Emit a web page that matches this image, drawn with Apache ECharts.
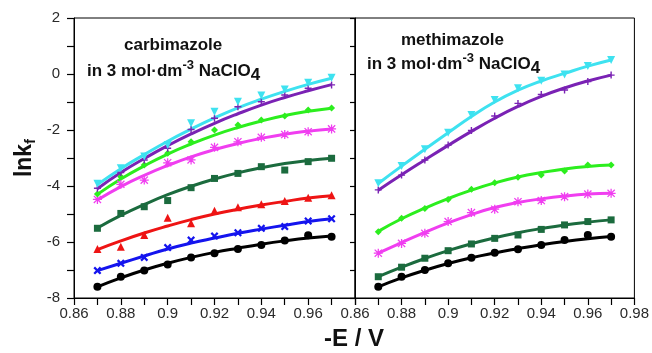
<!DOCTYPE html>
<html>
<head>
<meta charset="utf-8">
<script src="https://cdn.jsdelivr.net/npm/echarts@6/dist/echarts.min.js"></script>
<style>
  html, body { margin: 0; padding: 0; background: #fff; }
  #chart { width: 652px; height: 353px; }
</style>
</head>
<body>
<div id="chart"></div>
<script>
// Potentials (-E / V) at which ln kf was evaluated
const potentials = [0.87, 0.88, 0.89, 0.90, 0.91, 0.92, 0.93, 0.94, 0.95, 0.96, 0.97];

// Axis tick settings
const xTickMin = 0.86, xTickMax = 0.98;
const yTickMin = -8, yTickMax = 2;

// Carbimazole: measured points and fitted curves
const carbCyanPts    = [-3.92, -3.37, -2.95, -2.54, -1.76, -1.35, -0.99, -0.77, -0.55, -0.31, -0.13];
const carbCyanFit    = [-3.95, -3.38, -2.88, -2.40, -1.97, -1.57, -1.21, -0.90, -0.62, -0.37, -0.15];
const carbPurplePts  = [-4.08, -3.52, -3.07, -2.65, -1.98, -1.58, -1.17, -0.99, -0.75, -0.51, -0.39];
const carbPurpleFit  = [-4.10, -3.52, -3.02, -2.56, -2.14, -1.76, -1.42, -1.11, -0.84, -0.60, -0.38];
const carbGreenPts   = [-4.29, -3.67, -3.25, -2.83, -2.42, -2.00, -1.82, -1.64, -1.50, -1.29, -1.21];
const carbGreenFit   = [-4.30, -3.75, -3.28, -2.86, -2.50, -2.18, -1.91, -1.68, -1.48, -1.33, -1.22];
const carbMagentaPts = [-4.48, -3.94, -3.79, -3.17, -3.07, -2.62, -2.42, -2.26, -2.16, -2.06, -1.96];
const carbMagentaFit = [-4.50, -4.02, -3.62, -3.27, -2.96, -2.70, -2.48, -2.30, -2.15, -2.04, -1.96];
const carbDkGreenPts = [-5.51, -4.98, -4.74, -4.52, -4.06, -3.73, -3.55, -3.31, -3.43, -3.13, -3.01];
const carbDkGreenFit = [-5.50, -5.05, -4.66, -4.31, -4.01, -3.75, -3.53, -3.35, -3.20, -3.09, -3.01];
const carbRedPts     = [-6.25, -6.17, -5.75, -5.13, -5.33, -4.88, -4.76, -4.65, -4.54, -4.42, -4.33];
const carbRedFit     = [-6.27, -5.96, -5.68, -5.43, -5.20, -5.00, -4.83, -4.68, -4.55, -4.43, -4.35];
const carbBluePts    = [-7.02, -6.76, -6.55, -6.20, -5.93, -5.79, -5.67, -5.51, -5.45, -5.25, -5.17];
const carbBlueFit    = [-7.02, -6.76, -6.50, -6.25, -6.04, -5.86, -5.69, -5.54, -5.40, -5.27, -5.17];
const carbBlackPts   = [-7.60, -7.24, -7.02, -6.80, -6.55, -6.40, -6.25, -6.11, -5.95, -5.76, -5.81];
const carbBlackFit   = [-7.60, -7.28, -7.00, -6.76, -6.55, -6.37, -6.22, -6.08, -5.96, -5.86, -5.79];

// Methimazole: measured points and fitted curves
const methCyanPts    = [-3.90, -3.29, -2.69, -2.10, -1.46, -0.93, -0.51, -0.24, -0.02, 0.29, 0.50];
const methCyanFit    = [-3.91, -3.29, -2.69, -2.10, -1.52, -1.00, -0.58, -0.25, 0.02, 0.28, 0.50];
const methPurplePts  = [-4.14, -3.61, -3.07, -2.54, -2.02, -1.50, -1.05, -0.73, -0.57, -0.27, -0.04];
const methPurpleFit  = [-4.15, -3.60, -3.07, -2.55, -2.05, -1.58, -1.16, -0.80, -0.50, -0.25, -0.04];
const methGreenPts   = [-5.63, -5.15, -4.80, -4.48, -4.12, -3.88, -3.69, -3.61, -3.46, -3.25, -3.25];
const methGreenFit   = [-5.62, -5.17, -4.79, -4.45, -4.15, -3.89, -3.68, -3.52, -3.39, -3.30, -3.25];
const methMagentaPts = [-6.40, -6.05, -5.69, -5.27, -4.95, -4.83, -4.56, -4.52, -4.38, -4.29, -4.26];
const methMagentaFit = [-6.40, -6.02, -5.66, -5.32, -5.02, -4.77, -4.59, -4.46, -4.36, -4.29, -4.26];
const methDkGreenPts = [-7.24, -6.90, -6.58, -6.31, -6.07, -5.87, -5.75, -5.55, -5.39, -5.27, -5.21];
const methDkGreenFit = [-7.24, -6.90, -6.59, -6.31, -6.06, -5.85, -5.67, -5.52, -5.39, -5.29, -5.21];
const methBlackPts   = [-7.60, -7.24, -7.00, -6.76, -6.56, -6.38, -6.26, -6.11, -5.93, -5.75, -5.81];
const methBlackFit   = [-7.60, -7.28, -7.01, -6.77, -6.56, -6.39, -6.24, -6.10, -5.98, -5.88, -5.80];

const COLORS = {
  cyan: '#3ee2f0', purple: '#7a22b4', green: '#2cee1e', magenta: '#f03ef0',
  dkgreen: '#1b6b3e', red: '#ee1414', blue: '#1414ee', black: '#000000'
};

const SYMBOLS = {
  cross: 'path://M2,0 L5,3 L8,0 L10,2 L7,5 L10,8 L8,10 L5,7 L2,10 L0,8 L3,5 L0,2 Z',
  plus: 'path://M4,0 H6 V4 H10 V6 H6 V10 H4 V6 H0 V4 H4 Z',
  star: 'path://M4.3,0 H5.7 V4.3 H10 V5.7 H5.7 V10 H4.3 V5.7 H0 V4.3 H4.3 Z M1.5,0.5 L5,4 L8.5,0.5 L9.5,1.5 L6,5 L9.5,8.5 L8.5,9.5 L5,6 L1.5,9.5 L0.5,8.5 L4,5 L0.5,1.5 Z'
};

const series = [];
function addSet(panel, color, symbol, size, pts, fit, rotate) {
  series.push({
    type: 'line', xAxisIndex: panel, yAxisIndex: panel,
    data: potentials.map((x, i) => [x, fit[i]]),
    smooth: true, showSymbol: false, silent: true,
    lineStyle: { color: color, width: 3 }, z: 2
  });
  series.push({
    type: 'scatter', xAxisIndex: panel, yAxisIndex: panel,
    data: potentials.map((x, i) => [x, pts[i]]),
    symbol: symbol, symbolSize: size, symbolRotate: rotate || 0,
    itemStyle: { color: color, opacity: 1 }, z: 3
  });
}

addSet(0, COLORS.black,   'circle',    8, carbBlackPts,   carbBlackFit);
addSet(0, COLORS.blue,    SYMBOLS.cross, 8, carbBluePts,  carbBlueFit);
addSet(0, COLORS.red,     'triangle',  8, carbRedPts,     carbRedFit);
addSet(0, COLORS.dkgreen, 'rect',      7, carbDkGreenPts, carbDkGreenFit);
addSet(0, COLORS.magenta, SYMBOLS.star, 9, carbMagentaPts, carbMagentaFit);
addSet(0, COLORS.green,   'diamond',   7, carbGreenPts,   carbGreenFit);
addSet(0, COLORS.purple,  SYMBOLS.plus, 7, carbPurplePts, carbPurpleFit);
addSet(0, COLORS.cyan,    'triangle',  8, carbCyanPts,    carbCyanFit, 180);

addSet(1, COLORS.black,   'circle',    8, methBlackPts,   methBlackFit);
addSet(1, COLORS.dkgreen, 'rect',      7, methDkGreenPts, methDkGreenFit);
addSet(1, COLORS.magenta, SYMBOLS.star, 9, methMagentaPts, methMagentaFit);
addSet(1, COLORS.green,   'diamond',   7, methGreenPts,   methGreenFit);
addSet(1, COLORS.purple,  SYMBOLS.plus, 7, methPurplePts, methPurpleFit);
addSet(1, COLORS.cyan,    'triangle',  8, methCyanPts,    methCyanFit, 180);

const FONT = 'Liberation Sans, Arial, sans-serif';
const labelStyle = { color: '#2a2a2a', fontSize: 15, fontFamily: FONT };

function xAxisFor(panel) {
  return {
    type: 'value', gridIndex: panel, min: xTickMin, max: xTickMax, interval: 0.01,
    axisLine: { show: true, onZero: false, lineStyle: { color: '#000', width: 1 } },
    axisTick: { show: true, inside: false, length: 7, lineStyle: { color: '#000', width: 1.2 } },
    splitLine: { show: false },
    axisLabel: Object.assign({}, labelStyle, {
      margin: 8,
      showMinLabel: true, showMaxLabel: true,
      formatter: function (v) {
        const k = Math.round(v * 100);
        if (k % 2 !== 0) return '';
        if (panel === 0 && k === 98) return '';
        return String(+(k / 100).toFixed(2));
      }
    })
  };
}

function yAxisFor(panel) {
  const ax = {
    type: 'value', gridIndex: panel, min: yTickMin, max: yTickMax, interval: 1,
    axisLine: { show: true, onZero: false, lineStyle: { color: '#000', width: 1 } },
    axisTick: { show: true, inside: false, length: panel === 0 ? 7 : 5, lineStyle: { color: '#000', width: 1.2 } },
    splitLine: { show: false },
    axisLabel: Object.assign({}, labelStyle, {
      show: panel === 0, margin: 14,
      formatter: function (v) {
        const k = Math.round(v);
        return (k % 2 === 0) ? String(k) : '';
      }
    })
  };
  if (panel === 0) {
    ax.name = '{m|lnk}{s|f}';
    ax.nameLocation = 'middle';
    ax.nameRotate = 90;
    ax.nameGap = 36;
    ax.nameTextStyle = {
      rich: {
        m: { fontSize: 23, fontWeight: 'bold', fontFamily: FONT, color: '#111' },
        s: { fontSize: 15, fontWeight: 'bold', fontFamily: FONT, color: '#111', padding: [12, 0, 0, 0] }
      }
    };
  }
  return ax;
}

const textRich = {
  m: { fontSize: 17, fontWeight: 'bold', fontFamily: FONT, color: '#111' },
  sup: { fontSize: 13, fontWeight: 'bold', fontFamily: FONT, color: '#111', padding: [0, 0, 12, 0] },
  sub: { fontSize: 17, fontWeight: 'bold', fontFamily: FONT, color: '#111', padding: [7, 0, 0, 0] }
};

const option = {
  backgroundColor: '#ffffff',
  animation: false,
  grid: [
    { left: 74, top: 18, width: 281, height: 280, show: true, borderColor: '#000', borderWidth: 1, backgroundColor: 'transparent' },
    { left: 355, top: 18, width: 281, height: 280, show: true, borderColor: '#000', borderWidth: 1, backgroundColor: 'transparent' }
  ],
  xAxis: [xAxisFor(0), xAxisFor(1)],
  yAxis: [yAxisFor(0), yAxisFor(1)],
  title: [
    { text: 'carbimazole', left: 124, top: 37, padding: 0,
      textStyle: { fontSize: 17, fontWeight: 'bold', fontFamily: FONT, color: '#111' } },
    { text: '{m|in 3 mol·dm}{sup|-3}{m| NaClO}{sub|4}', left: 87, top: 59, padding: 0,
      textStyle: { rich: textRich } },
    { text: 'methimazole', left: 401, top: 32, padding: 0,
      textStyle: { fontSize: 17, fontWeight: 'bold', fontFamily: FONT, color: '#111' } },
    { text: '{m|in 3 mol·dm}{sup|-3}{m| NaClO}{sub|4}', left: 367, top: 52, padding: 0,
      textStyle: { rich: textRich } },
    { text: '-E / V', left: 324, top: 327, padding: 0,
      textStyle: { fontSize: 24, fontWeight: 'bold', fontFamily: FONT, color: '#111' } }
  ],
  series: series
};

const chart = echarts.init(document.getElementById('chart'), null, { renderer: 'canvas' });
chart.setOption(option);
</script>
</body>
</html>
